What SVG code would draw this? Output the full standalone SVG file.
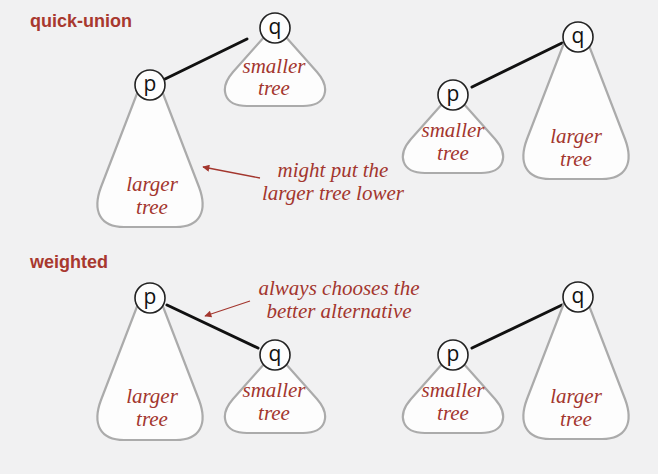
<svg xmlns="http://www.w3.org/2000/svg" width="658" height="474" viewBox="0 0 658 474">
<style>
.title{font-family:"Liberation Sans",Arial,sans-serif;font-weight:bold;font-size:18px;fill:#a8382f}
.lbl{font-family:"Liberation Serif","Times New Roman",serif;font-style:italic;font-size:21px;fill:#a3362e;text-anchor:middle}
.tree{fill:#fdfdfd;stroke:#ababab;stroke-width:2.2;stroke-linejoin:round}
.node circle{fill:#fdfdfd;stroke:#222;stroke-width:1.6}
.node text{font-family:"Open Sans","Liberation Sans",sans-serif;font-size:21px;fill:#111;text-anchor:middle}
.link{stroke:#111;stroke-width:3;stroke-linecap:round}
.ann{stroke:#a3362e;stroke-width:1.3;fill:none}
</style>
<defs>
<path id="big" d="M -12,6 L -49,102 C -58,126 -50,142 -26,142 L 26,142 C 50,142 58,126 49,102 L 12,6 Z"/>
<path id="small" d="M -10,8 L -42,44 C -56,60 -52,78 -28,78 L 28,78 C 52,78 56,60 42,44 L 10,8 Z"/>
<marker id="ah" viewBox="0 0 10 10" refX="9" refY="5" markerWidth="9" markerHeight="7" markerUnits="userSpaceOnUse" orient="auto">
<path d="M0,0 L10,5 L0,10 Z" fill="#a3362e"/>
</marker>
</defs>
<rect width="658" height="474" fill="#f1f1f2"/>
<text class="title" x="30" y="27">quick-union</text>
<text class="title" x="30" y="268">weighted</text>

<g id="connectors">
<line class="link" x1="163" y1="80" x2="247" y2="39"/>
<line class="link" x1="472" y1="87" x2="562" y2="43"/>
<line class="link" x1="167" y1="305" x2="258" y2="348"/>
<line class="link" x1="472" y1="348" x2="562" y2="305"/>
<line class="ann" x1="260" y1="178" x2="203" y2="167" marker-end="url(#ah)"/>
<line class="ann" x1="250" y1="301" x2="205" y2="316" marker-end="url(#ah)"/>
</g>

<!-- top-left -->
<g id="t1-large-p">
<use href="#big" class="tree" transform="translate(150,85)"/>
<text class="lbl" x="152" y="191">larger</text>
<text class="lbl" x="152" y="214">tree</text>
</g>
<g id="t1-small-q">
<use href="#small" class="tree" transform="translate(275,28)"/>
<text class="lbl" x="274" y="73">smaller</text>
<text class="lbl" x="274" y="95">tree</text>
</g>
<g id="n1-p" class="node"><circle cx="150" cy="85" r="15"/><text x="150" y="91">p</text></g>
<g id="n1-q" class="node"><circle cx="275" cy="28" r="15"/><text x="275" y="34">q</text></g>

<!-- top-right -->
<g id="t2-small-p">
<use href="#small" class="tree" transform="translate(453,95)"/>
<text class="lbl" x="453" y="137">smaller</text>
<text class="lbl" x="453" y="160">tree</text>
</g>
<g id="t2-large-q">
<use href="#big" class="tree" transform="translate(576,37)"/>
<text class="lbl" x="576" y="143">larger</text>
<text class="lbl" x="576" y="166">tree</text>
</g>
<g id="n2-p" class="node"><circle cx="453" cy="95" r="15"/><text x="453" y="101">p</text></g>
<g id="n2-q" class="node"><circle cx="578" cy="37" r="15"/><text x="578" y="43">q</text></g>

<!-- bottom-left -->
<g id="t3-large-p">
<use href="#big" class="tree" transform="translate(150,298)"/>
<text class="lbl" x="152" y="403">larger</text>
<text class="lbl" x="152" y="426">tree</text>
</g>
<g id="t3-small-q">
<use href="#small" class="tree" transform="translate(275,355)"/>
<text class="lbl" x="274" y="397">smaller</text>
<text class="lbl" x="274" y="420">tree</text>
</g>
<g id="n3-p" class="node"><circle cx="150" cy="298" r="15"/><text x="150" y="304">p</text></g>
<g id="n3-q" class="node"><circle cx="275" cy="355" r="15"/><text x="275" y="361">q</text></g>

<!-- bottom-right -->
<g id="t4-small-p">
<use href="#small" class="tree" transform="translate(453,355)"/>
<text class="lbl" x="453" y="397">smaller</text>
<text class="lbl" x="453" y="420">tree</text>
</g>
<g id="t4-large-q">
<use href="#big" class="tree" transform="translate(576,297)"/>
<text class="lbl" x="576" y="403">larger</text>
<text class="lbl" x="576" y="426">tree</text>
</g>
<g id="n4-p" class="node"><circle cx="453" cy="355" r="15"/><text x="453" y="361">p</text></g>
<g id="n4-q" class="node"><circle cx="578" cy="297" r="15"/><text x="578" y="303">q</text></g>

<g id="note1">
<text class="lbl" x="333" y="177">might put the</text>
<text class="lbl" x="333" y="200">larger tree lower</text>
</g>
<g id="note2">
<text class="lbl" x="339" y="295">always chooses the</text>
<text class="lbl" x="339" y="318">better alternative</text>
</g>
</svg>
